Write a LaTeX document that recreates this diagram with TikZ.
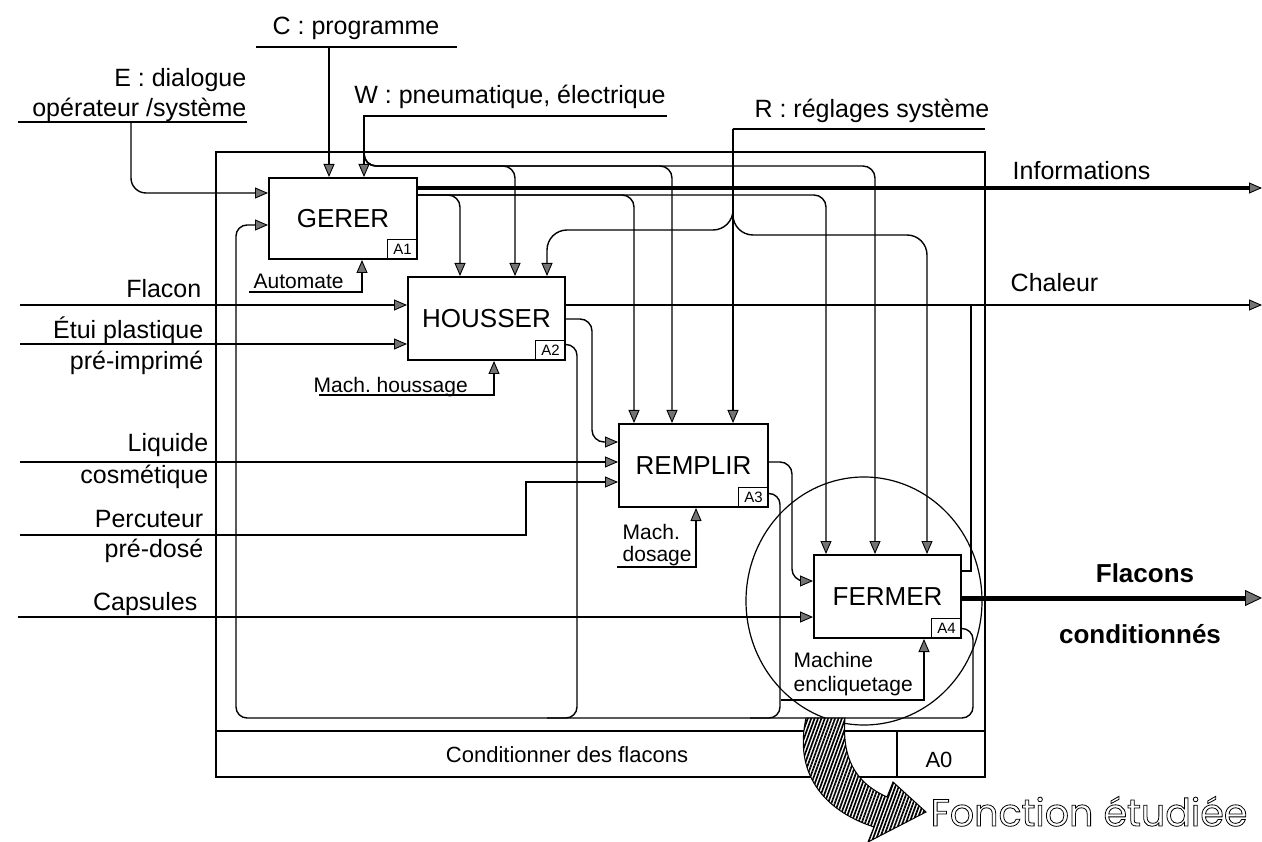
\documentclass[tikz,border=0pt]{standalone}
\usepackage{fontspec}
\setmainfont{Liberation Sans}
\newfontfamily\foncfont{Poppins}
\usetikzlibrary{arrows.meta, positioning, calc, patterns.meta}

\begin{document}
\begin{tikzpicture}[x=1pt, y=-1pt, line width=1.4pt,
    font=\fontsize{25}{28}\selectfont,
    box/.style={draw, line width=2pt, inner sep=0pt, minimum width=148pt, minimum height=83pt, font=\fontsize{26}{28}\selectfont},
    tag/.style={draw, line width=1pt, inner sep=0pt, minimum width=30pt, minimum height=20pt, anchor=south east, font=\fontsize{15}{16}\selectfont},
    arr/.style={-{Triangle[length=13pt, width=11pt, fill=black!55, line width=0.9pt]}},
    link/.style={arr, rounded corners=12pt},
    flux/.style={arr, line width=2.8pt},
    lbl/.style={anchor=base east, inner sep=0pt},
    txt/.style={anchor=base, inner sep=0pt},
    small/.style={anchor=base west, inner sep=0pt, font=\fontsize{21}{23}\selectfont}]
  \useasboundingbox (0,0) rectangle (1262,842);

  % cadre A0
  \draw (216,152) rectangle (985,777);
  \draw[line width=1.8pt] (216,731) -- (985,731);
  \draw (897,731) -- (897,777);
  \node[txt, font=\fontsize{22}{24}\selectfont] (titre) at (567,762) {Conditionner des flacons};
  \node[txt, font=\fontsize{22}{24}\selectfont] (na0) at (939,767) {A0};

  % boites
  \node[box, minimum height=81pt] (gerer) at (343,218.5) {GERER};
  \node[box, minimum width=157pt] (housser) at (486.5,318.5) {HOUSSER};
  \node[box, minimum width=149pt] (remplir) at (693.5,465.5) {REMPLIR};
  \node[box, minimum width=147pt] (fermer) at (887.5,596.5) {FERMER};
  \node[tag] (a1) at (gerer.south east) {A1};
  \node[tag] (a2) at (housser.south east) {A2};
  \node[tag] (a3) at (remplir.south east) {A3};
  \node[tag] (a4) at (fermer.south east) {A4};

  % C : programme
  \node[txt] (tc) at (356,35) {C : programme};
  \draw (256,47) -- (457,47);
  \coordinate (c) at (329,47);
  \draw[arr] (c) -- (c |- gerer.north);

  % E : dialogue
  \node[lbl] (te1) at (247,87) {E : dialogue};
  \node[lbl] (te2) at (247,117) {opérateur /système};
  \draw (18,122) -- (247,122);
  \coordinate (e) at (131,122);
  \draw[link, rounded corners=15pt] (e) |- ($(gerer.north west)+(0,16)$);

  % W : energie
  \node[txt] (tw) at (510,104) {W : pneumatique, électrique};
  \draw (363,116) -- (667,116);
  \coordinate (w) at (364,116);
  \coordinate (wbus) at (0,166);
  \coordinate (hw) at ($(housser.north west)+(108,0)$);
  \coordinate (rw) at ($(remplir.north west)+(54,0)$);
  \coordinate (fw) at ($(fermer.north west)+(62,0)$);
  \draw[arr] (w) -- (w |- gerer.north);
  \foreach \p in {hw, rw, fw}
    \draw[link] (w) |- (\p |- wbus) -- (\p);

  % R : reglages
  \node[txt] (tr) at (872,118) {R : réglages système};
  \draw (733,129) -- (985,129);
  \coordinate (r) at (733,129);
  \coordinate (rbusl) at (0,230);
  \coordinate (rbusr) at (0,235);
  \coordinate (hr) at ($(housser.north west)+(140,0)$);
  \coordinate (fr) at ($(fermer.north west)+(114,0)$);
  \draw[arr] (r) -- (r |- remplir.north);
  \draw[link, rounded corners=20pt] (r) |- (hr |- rbusl) -- (hr);
  \draw[link, rounded corners=20pt] (r) |- (fr |- rbusr) -- (fr);

  % sorties de GERER
  \coordinate (g2) at ($(gerer.north east)+(0,18)$);
  \coordinate (hg) at ($(housser.north west)+(53,0)$);
  \coordinate (rg) at ($(remplir.north west)+(16,0)$);
  \coordinate (fg) at ($(fermer.north west)+(13,0)$);
  \foreach \p in {hg, rg, fg}
    \draw[link] (g2) -| (\p);
  \coordinate (info) at (1262,188);
  \draw[arr, line width=3.5pt] (gerer.east |- info) -- (info);
  \node[anchor=base west, inner sep=0pt] (tinfo) at (1012,180) {Informations};

  % supports
  \node[small] (tauto) at (253,289) {Automate};
  \draw[arr] (249,292) -| ($(gerer.south west)+(94,0)$);
  \node[small] (thous) at (313,392) {Mach.\ houssage};
  \draw[arr] (319,395) -| ($(housser.south west)+(87,0)$);
  \node[small] (tdos1) at (622,539) {Mach.};
  \node[small] (tdos2) at (622,561) {dosage};
  \draw[arr] (617,567) -| ($(remplir.south west)+(78,0)$);
  \node[small] (tencl1) at (793,667) {Machine};
  \node[small] (tencl2) at (793,691) {encliquetage};
  \draw[arr] (781,700) -| ($(fermer.south west)+(111,0)$);

  % entrees
  \node[lbl] (tflacon) at (202,298) {Flacon};
  \node[lbl] (tetui1) at (204,339) {Étui plastique};
  \node[lbl] (tetui2) at (204,370) {pré-imprimé};
  \node[lbl] (tliq1) at (209,452) {Liquide};
  \node[lbl] (tliq2) at (209,483) {cosmétique};
  \node[lbl] (tperc1) at (204,527) {Percuteur};
  \node[lbl] (tperc2) at (204,557) {pré-dosé};
  \node[lbl] (tcaps) at (198,610) {Capsules};
  \coordinate (iflacon) at (20,305);
  \coordinate (ietui) at (20,344);
  \coordinate (iliquide) at (20,462);
  \coordinate (iperc) at (20,535);
  \coordinate (icaps) at (18,617);
  \draw[flux] (iflacon) -- (iflacon -| housser.west);
  \draw[flux] (ietui) -- (ietui -| housser.west);
  \draw[flux] (iliquide) -- (iliquide -| remplir.west);
  \draw[arr, line width=2pt] (iperc) -| ($(remplir.north west)+(-92,59)$) -- ($(remplir.north west)+(0,59)$);
  \draw[flux] (icaps) -- (icaps -| fermer.west);

  % HOUSSER -> REMPLIR -> FERMER
  \coordinate (chal) at (1262,305);
  \draw[arr, line width=2.5pt] (housser.east |- chal) -- (chal);
  \node[anchor=base west, inner sep=0pt] (tchal) at (1010,292) {Chaleur};
  \coordinate (r1) at ($(remplir.north west)+(0,19)$);
  \draw[link] ($(housser.north east)+(0,43)$) -| ($(r1)+(-26,0)$) -- (r1);
  \coordinate (f1) at ($(fermer.north west)+(0,27)$);
  \draw[link] ($(remplir.north east)+(0,39)$) -| ($(f1)+(-21,0)$) -- (f1);

  % sorties de FERMER
  \coordinate (flac) at (1262,598);
  \draw[-{Triangle[length=17pt, width=16pt, fill=black!55, line width=0.9pt]}, line width=5pt] (fermer.east |- flac) -- (flac);
  \node[txt, font=\fontsize{26}{28}\selectfont\bfseries] (tflac1) at (1145,582) {Flacons};
  \node[txt, font=\fontsize{26}{28}\selectfont\bfseries] (tflac2) at (1140,643) {conditionnés};
  \coordinate (fc) at ($(fermer.north east)+(9,17)$);
  \draw (fermer.east |- fc) -- (fc) -- (fc |- chal);

  % retours vers GERER
  \coordinate (floop) at (973,718);
  \coordinate (rloop) at (780,718);
  \coordinate (hloop) at (577,718);
  \coordinate (gloop) at (236,718);
  \draw[link, rounded corners=11pt] (a4.east) -| (floop) -- (gloop) |- ($(gerer.north west)+(0,48)$);
  \draw[rounded corners=11pt] ([yshift=4pt]a3.east) -| (rloop) -- ++(-30,0);
  \draw[rounded corners=11pt] ([yshift=6pt]a2.east) -| (hloop) -- ++(-30,0);

  % fonction etudiee
  \draw[line width=1.2pt] (864,601) ellipse [x radius=118pt, y radius=124pt];
  \filldraw[fill=white, line width=1pt, postaction={pattern={Lines[angle=70, distance=3.2pt, line width=1.7pt]}}]
    (806,718) .. controls (794,772) and (822,810) .. (874,827) -- (868,842) -- (926,812) -- (893,782)
    -- (887,797) .. controls (854,782) and (842,757) .. (845,718) -- cycle;
  \node[anchor=base west, inner sep=0pt, font=\fontsize{38}{40}\foncfont] (tfonc) at (930,826)
    {\special{pdf:literal direct 1 Tr 0.8 w}Fonction étudiée\special{pdf:literal direct 0 Tr}};
\end{tikzpicture}
\end{document}
